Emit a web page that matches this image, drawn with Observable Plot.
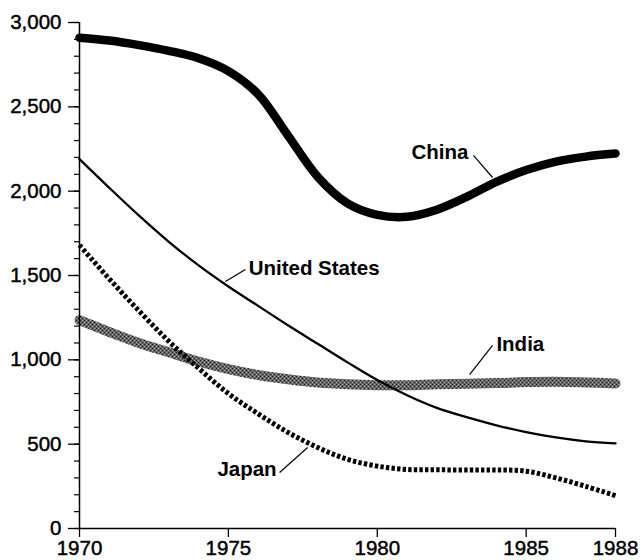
<!DOCTYPE html>
<html>
<head>
<meta charset="utf-8">
<script src="https://cdn.jsdelivr.net/npm/d3@7"></script>
<script src="https://cdn.jsdelivr.net/npm/@observablehq/plot@0.6"></script>
<style>
  html, body { margin: 0; padding: 0; background: #fff; }
  #chart { width: 640px; height: 560px; }
  #chart svg g[aria-label="y-axis tick label"] text,
  #chart svg g[aria-label="x-axis tick label"] text { stroke: #000; stroke-width: 0.45px; }
</style>
</head>
<body>
<div id="chart"></div>
<script>
// ---- data ----
const years = [1970,1971,1972,1973,1974,1975,1976,1977,1978,1979,1980,1981,1982,1983,1984,1985,1986,1987,1988];
const china        = [2910,2893,2866,2832,2788,2712,2575,2330,2085,1928,1860,1848,1890,1966,2055,2125,2175,2205,2223];
const unitedStates = [2190,2020,1855,1700,1560,1435,1320,1205,1095,985,880,790,715,660,612,572,540,517,505];
const india        = [1235,1165,1100,1045,990,945,910,885,865,855,850,850,855,858,862,868,870,866,860];
const japan        = [1680,1480,1290,1110,950,800,680,570,480,410,370,350,348,347,347,340,300,250,195];

const yTicks = [0,500,1000,1500,2000,2500,3000];
const yMinorTicks = d3.range(0, 3001, 100);
const xTicks = [1970,1975,1980,1985,1988];

// series labels: text anchor point and leader line (year, value)
const labelNames   = ["China","United States","India","Japan"];
const labelYear    = [1983.06, 1975.68, 1984.0, 1976.62];
const labelValue   = [2227, 1542, 1091, 350];
const leaderYear1  = [1983.23, 1975.57, 1983.87, 1976.72];
const leaderValue1 = [2212, 1536, 1085, 332];
const leaderYear2  = [1983.87, 1974.90, 1983.10, 1977.66];
const leaderValue2 = [2081, 1464, 913, 480];

// ---- tables built from the arrays ----
const toRows = (name, vals) => years.map((y, i) => ({name, year: y, value: vals[i]}));
const chinaRows = toRows("China", china);
const usRows = toRows("United States", unitedStates);
const indiaRows = toRows("India", india);
const japanRows = toRows("Japan", japan);

const labels = labelNames.map((n, i) => ({
  name: n, x: labelYear[i], y: labelValue[i],
  x1: leaderYear1[i], y1: leaderValue1[i], x2: leaderYear2[i], y2: leaderValue2[i]
}));
const startLabels = labels.filter(d => d.name === "United States" || d.name === "India");
const endLabels = labels.filter(d => d.name === "China" || d.name === "Japan");

const font = "'Liberation Sans', Arial, Helvetica, sans-serif";
const fmtThousands = d3.format(",d");
const fmtYear = d3.format("d");

const chart = Plot.plot({
  width: 640,
  height: 560,
  marginLeft: 79,
  marginRight: 25,
  marginTop: 22,
  marginBottom: 32,
  x: {domain: [1970, 1988], label: null},
  y: {domain: [0, 3000], label: null},
  style: {fontFamily: font, background: "#fff", color: "#000"},
  marks: [
    Plot.lineY(indiaRows, {x: "year", y: "value", stroke: "url(#indiaHatch)", strokeWidth: 10, curve: "catmull-rom"}),
    Plot.lineY(usRows, {x: "year", y: "value", stroke: "#000", strokeWidth: 2.3, curve: "catmull-rom"}),
    Plot.lineY(japanRows, {x: "year", y: "value", stroke: "#000", strokeWidth: 5, strokeDasharray: "3.4,2.2", strokeLinecap: "butt", curve: "catmull-rom"}),
    Plot.lineY(chinaRows, {x: "year", y: "value", stroke: "#000", strokeWidth: 8.5, curve: "catmull-rom"}),
    Plot.link(labels, {x1: "x1", y1: "y1", x2: "x2", y2: "y2", stroke: "#000", strokeWidth: 1.2}),
    Plot.text(startLabels, {x: "x", y: "y", text: "name", textAnchor: "start", lineAnchor: "middle", fontSize: 20.5, fontWeight: "bold", fill: "#000"}),
    Plot.text(endLabels, {x: "x", y: "y", text: "name", textAnchor: "end", lineAnchor: "middle", fontSize: 20.5, fontWeight: "bold", fill: "#000"}),
    Plot.ruleX([1970], {stroke: "#000", strokeWidth: 1.5}),
    Plot.ruleY([0], {stroke: "#000", strokeWidth: 1.5}),
    Plot.axisY({ticks: yMinorTicks, tickSize: 5, tickFormat: () => "", strokeWidth: 1.2}),
    Plot.axisY({ticks: yTicks, tickSize: 11, tickPadding: 7, tickFormat: fmtThousands, fontSize: 20.5, strokeWidth: 1.3}),
    Plot.axisX({ticks: xTicks, tickSize: 9, tickPadding: 3, tickFormat: fmtYear, fontSize: 20.5, strokeWidth: 1.3})
  ]
});

// hatch pattern for the India band
const defs = d3.select(chart).insert("defs", ":first-child");
const pat = defs.append("pattern")
  .attr("id", "indiaHatch")
  .attr("patternUnits", "userSpaceOnUse")
  .attr("width", 4).attr("height", 4);
pat.append("rect").attr("width", 4).attr("height", 4).attr("fill", "#b0b0b0");
[[0,0],[1,1],[2,2],[3,3],[3,0],[2,1],[1,2],[0,3]].forEach(([x, y]) => {
  pat.append("rect").attr("x", x).attr("y", y).attr("width", 1).attr("height", 1).attr("fill", "#1a1a1a");
});

document.getElementById("chart").appendChild(chart);
</script>
</body>
</html>
